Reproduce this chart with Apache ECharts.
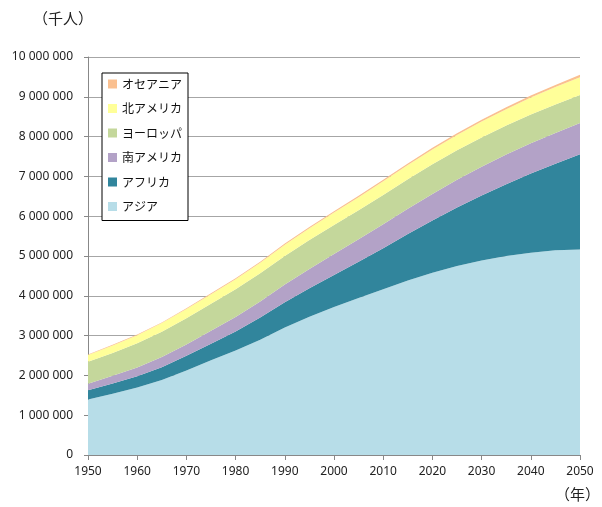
<!DOCTYPE html>
<html>
<head>
<meta charset="utf-8">
<script src="https://cdn.jsdelivr.net/npm/echarts@6/dist/echarts.min.js"></script>
<style>
  html, body { margin: 0; padding: 0; background: #fff; }
  #chart { width: 602px; height: 507px; }
</style>
</head>
<body>
<div id="chart"></div>
<script>
// 千人, 5-year steps
var years = ['1950', '1955', '1960', '1965', '1970', '1975', '1980', '1985', '1990', '1995', '2000',
             '2005', '2010', '2015', '2020', '2025', '2030', '2035', '2040', '2045', '2050'];

var asia = [1395749, 1541947, 1694576, 1886665, 2125321, 2377983, 2623691, 2897337, 3202475, 3471080, 3717372,
            3944944, 4165440, 4384844, 4581523, 4748041, 4886847, 4998301, 5084255, 5142874, 5164061];
var africa = [228827, 254916, 284970, 321213, 366461, 420001, 482235, 555009, 634567, 718878, 808304,
              911995, 1031084, 1166239, 1312560, 1470305, 1634366, 1807000, 1988000, 2176000, 2393175];
var southAmerica = [168000, 192000, 220000, 252000, 287000, 324000, 363000, 404000, 445000, 486000, 526000,
                    563000, 599000, 634000, 666000, 695000, 721000, 742000, 760000, 773000, 781566];
var europe = [549043, 577000, 605619, 635000, 657000, 676000, 694000, 708000, 721000, 727000, 729000,
              730000, 740000, 743000, 744000, 741000, 736000, 731000, 725000, 717000, 709067];
var northAmerica = [172000, 187000, 204000, 219000, 231000, 242000, 254000, 267000, 281000, 297000, 313000,
                    328000, 344000, 358000, 372000, 386000, 399000, 411000, 423000, 435000, 446201];
var oceania = [12700, 14200, 15900, 17800, 19700, 21500, 22900, 24900, 27000, 29000, 31200,
               33700, 36600, 39400, 42100, 44800, 47300, 49700, 52100, 54400, 56874];

var names = ['アジア', 'アフリカ', '南アメリカ', 'ヨーロッパ', '北アメリカ', 'オセアニア'];
var colors = ['#b7dde8', '#31859c', '#b3a2c7', '#c4d79b', '#ffff99', '#fac090'];
var values = [asia, africa, southAmerica, europe, northAmerica, oceania];

var font = '"Noto Sans", "Noto Sans CJK JP", sans-serif';
var jpFont = '"Noto Sans CJK JP", sans-serif';

function spaced(v) {
  return String(v).replace(/\B(?=(\d{3})+(?!\d))/g, ' ');
}

var chart = echarts.init(document.getElementById('chart'));

chart.setOption({
  animation: false,
  textStyle: { fontFamily: font },
  grid: { left: 88, right: 22, top: 57, bottom: 52 },
  graphic: [
    { type: 'text', left: 33, top: 11, style: { text: '（千人）', font: '15px ' + jpFont, fill: '#222' } },
    { type: 'text', right: 2, top: 487, style: { text: '（年）', font: '15px ' + jpFont, fill: '#222' } }
  ],
  legend: {
    orient: 'vertical',
    left: 102,
    top: 73,
    padding: [5, 6, 8, 6],
    itemWidth: 9,
    itemHeight: 9,
    itemGap: 12.5,
    icon: 'rect',
    backgroundColor: '#fff',
    borderColor: '#000',
    borderWidth: 1,
    textStyle: { fontSize: 12, color: '#111', fontFamily: jpFont },
    data: names.slice().reverse()
  },
  xAxis: {
    type: 'category',
    boundaryGap: false,
    data: years,
    axisLine: { lineStyle: { color: '#888' } },
    axisTick: { show: true, length: 5, interval: 1, lineStyle: { color: '#888' } },
    axisLabel: { color: '#222', fontSize: 12, margin: 11, interval: 1 },
    splitLine: { show: false }
  },
  yAxis: {
    type: 'value',
    min: 0,
    max: 10000000,
    interval: 1000000,
    axisLine: { show: true, lineStyle: { color: '#888' } },
    axisTick: { show: true, length: 4, lineStyle: { color: '#888' } },
    axisLabel: { color: '#222', fontSize: 12, margin: 15, formatter: spaced },
    splitLine: { lineStyle: { color: '#a6a6a6', width: 1 } }
  },
  series: names.map(function (n, i) {
    return {
      name: n,
      type: 'line',
      stack: 'pop',
      showSymbol: false,
      color: colors[i],
      lineStyle: { width: 0 },
      areaStyle: { color: colors[i], opacity: 1 },
      data: values[i]
    };
  })
});
</script>
</body>
</html>
